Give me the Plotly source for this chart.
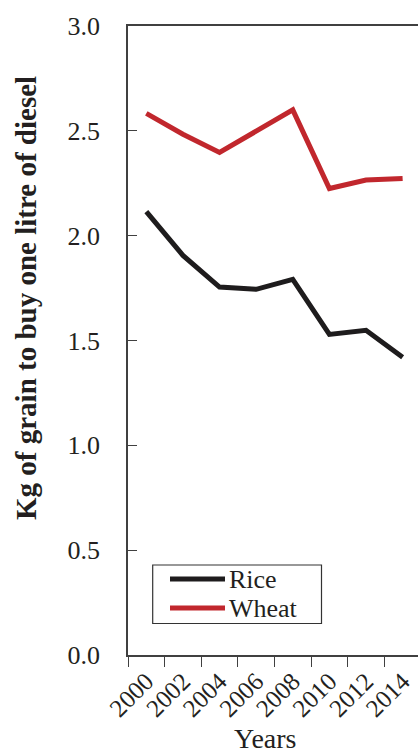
import plotly.graph_objects as go

years = ["2000", "2002", "2004", "2006", "2008", "2010", "2012", "2014"]
rice = [2.115, 1.906, 1.755, 1.744, 1.792, 1.529, 1.549, 1.420]
wheat = [2.583, 2.484, 2.397, 2.496, 2.600, 2.225, 2.265, 2.273]
y_ticks = [0.0, 0.5, 1.0, 1.5, 2.0, 2.5, 3.0]
series_names = ["Rice", "Wheat"]
series_colors = ["#1e1c1d", "#c1272d"]

FONT = "Liberation Serif, Times New Roman, serif"
TXT = "#231f20"
AX = "#404040"

W, H = 418, 754
L, R, T, B = 128, 0, 26, 99
PW, PH = W - L - R, H - T - B


def px(x):
    return (x - L) / PW


def py(y):
    return (H - B - y) / PH


fig = go.Figure()
for name, vals, col in zip(series_names, [rice, wheat], series_colors):
    fig.add_trace(go.Scatter(x=years, y=vals, mode="lines", name=name,
                             line=dict(color=col, width=5)))

fig.update_layout(
    width=W, height=H,
    margin=dict(l=L, r=R, t=T, b=B),
    paper_bgcolor="white", plot_bgcolor="white",
    font=dict(family=FONT, color=TXT, size=26),
    showlegend=False,
    xaxis=dict(type="category", range=[-0.5, 7.42], tickson="boundaries",
               ticks="outside", ticklen=10, tickcolor=AX, tickwidth=1.2,
               showline=True, linecolor=AX, linewidth=1.5, mirror=True,
               showgrid=False, zeroline=False, tickangle=-45,
               tickfont=dict(family=FONT, size=25, color=TXT)),
    yaxis=dict(range=[0, 3], tickvals=y_ticks, tickformat=".1f",
               ticks="inside", ticklen=9, tickcolor=AX, tickwidth=1.2,
               showline=True, linecolor=AX, linewidth=1.5,
               showgrid=False, zeroline=False, ticklabelstandoff=21,
               tickfont=dict(family=FONT, size=26, color=TXT)),
)

# legend box drawn manually
fig.add_shape(type="rect", xref="paper", yref="paper",
              x0=px(152.7), x1=px(321.5), y0=py(623.5), y1=py(565),
              line=dict(color="#333333", width=1.2), fillcolor="white",
              layer="above")
for name, col, yy in zip(series_names, series_colors, [579, 608]):
    fig.add_shape(type="line", xref="paper", yref="paper",
                  x0=px(170), x1=px(225), y0=py(yy), y1=py(yy),
                  line=dict(color=col, width=5), layer="above")
    fig.add_annotation(text=name, xref="paper", yref="paper",
                       x=px(227), y=py(yy), xanchor="left", yanchor="middle",
                       showarrow=False,
                       font=dict(family=FONT, size=26, color=TXT))

fig.add_annotation(text="Years", xref="paper", yref="paper", x=px(265), y=0,
                   yshift=-83, xanchor="center", yanchor="middle",
                   showarrow=False, font=dict(family=FONT, size=28, color=TXT))
fig.add_annotation(text="<b>Kg of grain to buy one litre of diesel</b>",
                   xref="paper", yref="paper", x=0, xshift=26 - L, y=py(298),
                   xanchor="center", yanchor="middle", textangle=-90,
                   showarrow=False, font=dict(family=FONT, size=29, color=TXT))

fig.write_html("out.html", config={"displayModeBar": False},
               post_script="document.body.style.margin='0';document.body.style.overflow='hidden';")
